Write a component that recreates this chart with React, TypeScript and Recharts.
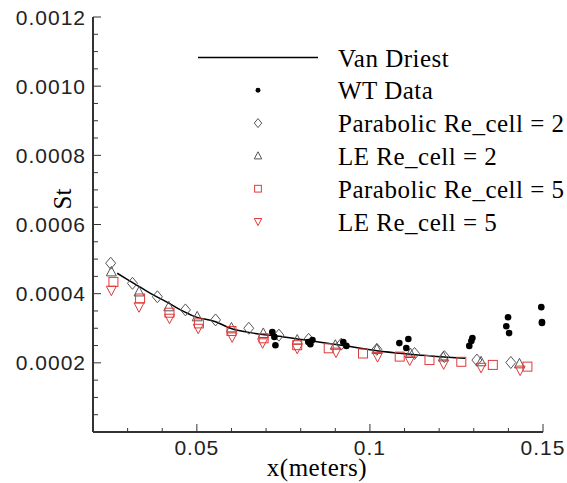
import { ComposedChart, Line, Scatter, XAxis, YAxis, Legend } from 'recharts';

// Van Driest correlation
const vdX = [0.027, 0.0318, 0.0366, 0.0415, 0.0453, 0.0496, 0.0554, 0.0597, 0.0669, 0.0751, 0.0847, 0.0943, 0.102, 0.1117, 0.1275];
const vdSt = [0.000459, 0.00043, 0.000401, 0.000375, 0.000353, 0.000333, 0.000319, 0.0003, 0.000285, 0.000275, 0.000261, 0.000247, 0.000235, 0.000225, 0.000213];

// WT data
const wtX = [0.0718, 0.0724, 0.0727, 0.0822, 0.0834, 0.0828, 0.0923, 0.0932, 0.1085, 0.1111, 0.1105, 0.1287, 0.1293, 0.1296, 0.1399, 0.1394, 0.1402, 0.1495, 0.1497, 0.1497];
const wtSt = [0.000289, 0.000275, 0.000251, 0.00026, 0.000266, 0.000254, 0.00026, 0.000249, 0.000257, 0.000269, 0.000243, 0.000249, 0.000263, 0.000272, 0.000332, 0.000306, 0.000286, 0.000361, 0.000318, 0.000315];

// Parabolic Re_cell = 2
const par2X = [0.0251, 0.0314, 0.0386, 0.0467, 0.0554, 0.065, 0.0737, 0.0823, 0.0917, 0.102, 0.1129, 0.1215, 0.1309, 0.1407];
const par2St = [0.000488, 0.00043, 0.000391, 0.000353, 0.000324, 0.0003, 0.00028, 0.000268, 0.000254, 0.000239, 0.000227, 0.000218, 0.000208, 0.000201];

// LE Re_cell = 2
const le2X = [0.0253, 0.0333, 0.0419, 0.0501, 0.06, 0.0692, 0.079, 0.09, 0.102, 0.1117, 0.1212, 0.1321, 0.1432];
const le2St = [0.000463, 0.000405, 0.000362, 0.000333, 0.000301, 0.000285, 0.000266, 0.000251, 0.000239, 0.000227, 0.000217, 0.000203, 0.000197];

// Parabolic Re_cell = 5
const par5X = [0.0259, 0.0336, 0.0421, 0.0506, 0.06, 0.0693, 0.079, 0.0881, 0.098, 0.1086, 0.1172, 0.1264, 0.1355, 0.1455];
const par5St = [0.000434, 0.000386, 0.000345, 0.000314, 0.000292, 0.000271, 0.000251, 0.000242, 0.000227, 0.000218, 0.000208, 0.000203, 0.000194, 0.000189];

// LE Re_cell = 5
const le5X = [0.0253, 0.0333, 0.0421, 0.0504, 0.0602, 0.069, 0.079, 0.0902, 0.1022, 0.1115, 0.1213, 0.1321, 0.1434];
const le5St = [0.00041, 0.000362, 0.000329, 0.0003, 0.000275, 0.000258, 0.000242, 0.000231, 0.000218, 0.000208, 0.000197, 0.000187, 0.000179];

const xTicks = [0.03, 0.04, 0.05, 0.06, 0.07, 0.08, 0.09, 0.1, 0.11, 0.12, 0.13, 0.14, 0.15];
const xMajor = [0.05, 0.1, 0.15];
const xLabels = ['0.05', '0.1', '0.15'];
const yTicks = [
  0.00005, 0.0001, 0.00015, 0.0002, 0.00025, 0.0003, 0.00035, 0.0004, 0.00045, 0.0005, 0.00055, 0.0006,
  0.00065, 0.0007, 0.00075, 0.0008, 0.00085, 0.0009, 0.00095, 0.001, 0.00105, 0.0011, 0.00115, 0.0012,
];
const yMajor = [0.0002, 0.0004, 0.0006, 0.0008, 0.001, 0.0012];
const yLabels = ['0.0002', '0.0004', '0.0006', '0.0008', '0.0010', '0.0012'];

const legendLabels = ['Van Driest', 'WT Data', 'Parabolic Re_cell = 2', 'LE Re_cell = 2', 'Parabolic Re_cell = 5', 'LE Re_cell = 5'];

const zip = (xs: number[], ys: number[]) => xs.map((x, i) => ({ x, y: ys[i] }));

const GRAY = '#555';
const RED = '#e03a3a';
const AXIS = '#333';
const SANS = '"Liberation Sans", Arial, sans-serif';
const SERIF = '"Liberation Serif", "Times New Roman", serif';

const findIdx = (arr: number[], v: number) => arr.findIndex((m) => Math.abs(m - v) < 1e-9);

function Marker({ kind, cx, cy, s = 1 }: { kind: string; cx: number; cy: number; s?: number }) {
  if (kind === 'dot') return <circle cx={cx} cy={cy} r={3.3 * s} fill="#000" />;
  if (kind === 'diamond')
    return <polygon points={`${cx},${cy - 6 * s} ${cx + 5 * s},${cy} ${cx},${cy + 6 * s} ${cx - 5 * s},${cy}`} fill="none" stroke={GRAY} strokeWidth={1} />;
  if (kind === 'tri')
    return <polygon points={`${cx},${cy - 5.5 * s} ${cx + 5 * s},${cy + 4 * s} ${cx - 5 * s},${cy + 4 * s}`} fill="none" stroke={GRAY} strokeWidth={1} />;
  if (kind === 'square')
    return <rect x={cx - 4.5 * s} y={cy - 4.5 * s} width={9 * s} height={9 * s} fill="none" stroke={RED} strokeWidth={1} />;
  return <polygon points={`${cx - 5 * s},${cy - 4 * s} ${cx + 5 * s},${cy - 4 * s} ${cx},${cy + 5.5 * s}`} fill="none" stroke={RED} strokeWidth={1} />;
}

const shape = (kind: string) => (p: any) => <Marker kind={kind} cx={p.cx} cy={p.cy} />;

function XTick(p: any) {
  const i = findIdx(xMajor, p.payload.value);
  const len = i >= 0 ? 8 : 4;
  return (
    <g>
      <line x1={p.x} y1={p.y} x2={p.x} y2={p.y - len} stroke={AXIS} strokeWidth={1} />
      {i >= 0 && (
        <text x={p.x} y={p.y + 23} textAnchor="middle" fontFamily={SANS} fontSize={21} letterSpacing={1} fill="#222">
          {xLabels[i]}
        </text>
      )}
    </g>
  );
}

function YTick(p: any) {
  const i = findIdx(yMajor, p.payload.value);
  const len = i >= 0 ? 8 : 5;
  return (
    <g>
      <line x1={p.x} y1={p.y} x2={p.x + len} y2={p.y} stroke={AXIS} strokeWidth={1} />
      {i >= 0 && (
        <text x={p.x - 7} y={p.y + 7.5} textAnchor="end" fontFamily={SANS} fontSize={21} letterSpacing={1} fill="#222">
          {yLabels[i]}
        </text>
      )}
    </g>
  );
}

const legendKinds = ['line', 'dot', 'diamond', 'tri', 'square', 'inv'];

function LegendBox() {
  return (
    <svg width={567} height={483} style={{ display: 'block' }}>
      {legendLabels.map((label, i) => {
        const cy = 57.5 + i * 32.8;
        return (
          <g key={label}>
            {legendKinds[i] === 'line' ? (
              <line x1={198} x2={318} y1={cy} y2={cy} stroke="#000" strokeWidth={1.5} />
            ) : (
              <Marker kind={legendKinds[i]} cx={258} cy={cy} s={0.75} />
            )}
            <text x={338} y={cy + 9} fontFamily={SERIF} fontSize={25} letterSpacing={0.5} fill="#000">
              {label}
            </text>
          </g>
        );
      })}
    </svg>
  );
}

export default function App() {
  return (
    <div style={{ position: 'absolute', left: 0, top: 0 }}>
      <ComposedChart width={567} height={483} margin={{ top: 17, right: 24, left: 0, bottom: 0 }}>
        <XAxis
          type="number"
          dataKey="x"
          domain={[0.02, 0.15]}
          ticks={xTicks}
          height={51}
          stroke={AXIS}
          strokeWidth={2}
          tickLine={false}
          tickSize={0}
          tickMargin={0}
          tick={<XTick />}
          interval={0}
          label={{
            content: () => (
              <text x={317} y={476} textAnchor="middle" fontFamily={SERIF} fontSize={25} letterSpacing={0.5} fill="#000">
                x(meters)
              </text>
            ),
          }}
        />
        <YAxis
          type="number"
          dataKey="y"
          domain={[0, 0.0012]}
          ticks={yTicks}
          width={93}
          stroke={AXIS}
          strokeWidth={2}
          tickLine={false}
          tickSize={0}
          tickMargin={0}
          tick={<YTick />}
          interval={0}
          label={{
            content: () => (
              <text x={0} y={0} transform="translate(71 199) rotate(-90)" textAnchor="middle" fontFamily={SERIF} fontSize={25} fill="#000">
                St
              </text>
            ),
          }}
        />
        <Legend layout="vertical" align="center" verticalAlign="middle" content={() => <LegendBox />} wrapperStyle={{ position: 'absolute', left: 0, top: 0, width: 567, height: 483, pointerEvents: 'none' }} />
        <Line data={zip(vdX, vdSt)} dataKey="y" type="monotone" stroke="#000" strokeWidth={1.5} dot={false} isAnimationActive={false} legendType="none" />
        <Scatter data={zip(par2X, par2St)} shape={shape('diamond')} isAnimationActive={false} />
        <Scatter data={zip(le2X, le2St)} shape={shape('tri')} isAnimationActive={false} />
        <Scatter data={zip(par5X, par5St)} shape={shape('square')} isAnimationActive={false} />
        <Scatter data={zip(le5X, le5St)} shape={shape('inv')} isAnimationActive={false} />
        <Scatter data={zip(wtX, wtSt)} shape={shape('dot')} isAnimationActive={false} />
      </ComposedChart>
    </div>
  );
}
